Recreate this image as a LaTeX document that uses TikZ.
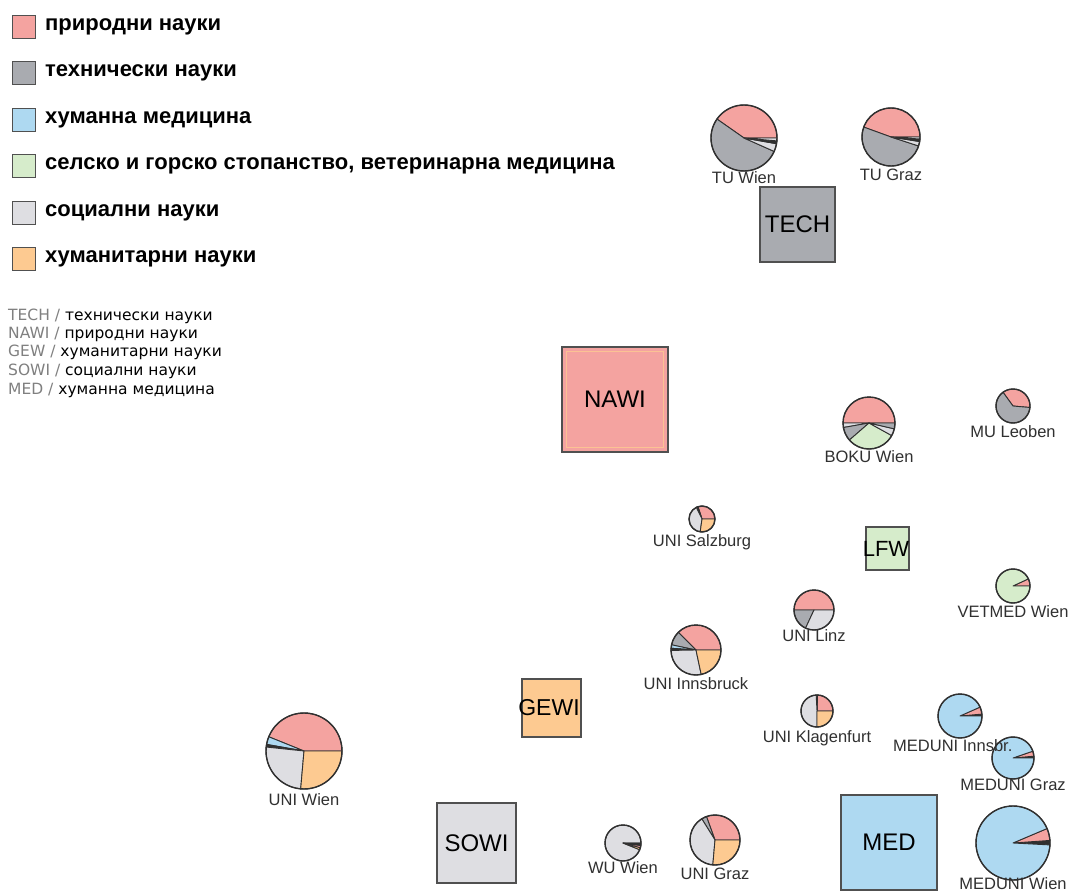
\documentclass[tikz,border=0pt]{standalone}
\usepackage{fontspec}
\setmainfont{Liberation Sans}
\newfontfamily\smallfont{DejaVu Sans}
\definecolor{cPink}{HTML}{F4A3A0}
\definecolor{cGray}{HTML}{A9ABB0}
\definecolor{cBlue}{HTML}{AED9F1}
\definecolor{cGreen}{HTML}{D6ECCB}
\definecolor{cLight}{HTML}{DEDEE2}
\definecolor{cOrange}{HTML}{FDCA91}
\definecolor{cDark}{HTML}{303030}
\definecolor{cBorder}{HTML}{505050}
\definecolor{cAbbr}{HTML}{808080}
\newcommand\pslice[5]{%
  \fill[#5,draw=cDark,line width=0.9pt,line join=round] (#1) -- ++({-(#3)}:#2) arc[start angle={-(#3)}, end angle={-(#4)}, radius=#2] -- cycle;}
\newcommand\pring[2]{\draw[cDark,line width=1.4pt] (#1) circle[radius=#2];}
\begin{document}
\begin{tikzpicture}[x=1pt,y=-1pt,
  legbox/.style={draw=cBorder,line width=1.2pt,minimum size=23pt,inner sep=0pt},
  legtext/.style={anchor=west,inner sep=0pt,font=\fontsize{22}{25}\selectfont\bfseries},
  smalltext/.style={anchor=west,inner sep=0pt,font=\smallfont\fontsize{15.5}{17}\selectfont},
  catbox/.style={draw=cBorder,line width=1.3pt,inner sep=0pt,font=\fontsize{24}{28}\selectfont,text=black},
  pielabel/.style={inner sep=0pt,font=\fontsize{16.5}{19}\selectfont,text=cDark}]
\useasboundingbox (0,0) rectangle (1077,894);
\fill[white] (0,0) rectangle (1077,894);

% ---------- legend ----------
\node[legbox,fill=cPink]   (l1) at (24,27)  {};
\node[legbox,fill=cGray]   (l2) at (24,73)  {};
\node[legbox,fill=cBlue]   (l3) at (24,120) {};
\node[legbox,fill=cGreen]  (l4) at (24,166) {};
\node[legbox,fill=cLight]  (l5) at (24,213) {};
\node[legbox,fill=cOrange] (l6) at (24,259) {};
\node[legtext] (t1) at (45,27)  {природни науки};
\node[legtext] (t2) at (45,73)  {технически науки};
\node[legtext] (t3) at (45,120) {хуманна медицина};
\node[legtext] (t4) at (45,166) {селско и горско стопанство, ветеринарна медицина};
\node[legtext] (t5) at (45,213) {социални науки};
\node[legtext] (t6) at (45,259) {хуманитарни науки};

\node[smalltext] (s1) at (8,316) {\textcolor{cAbbr}{TECH /} технически науки};
\node[smalltext] (s2) at (8,334) {\textcolor{cAbbr}{NAWI /} природни науки};
\node[smalltext] (s3) at (8,352) {\textcolor{cAbbr}{GEW /} хуманитарни науки};
\node[smalltext] (s4) at (8,371) {\textcolor{cAbbr}{SOWI /} социални науки};
\node[smalltext] (s5) at (8,390) {\textcolor{cAbbr}{MED /} хуманна медицина};

% ---------- category boxes ----------
\node[catbox,fill=cGray,minimum width=75pt,minimum height=75pt] (tech) at (797.5,224.5) {TECH};
\node[catbox,fill=cPink,minimum width=106pt,minimum height=105pt] (nawi) at (615,399.5) {};
\draw[cOrange!80!cPink,line width=1.2pt] ([shift={(5,-5)}]nawi.south west) rectangle ([shift={(-5,5)}]nawi.north east);
\node[inner sep=0pt,font=\fontsize{24}{28}\selectfont] (nawit) at (nawi.center) {NAWI};
\node[catbox,fill=cGreen,minimum width=43pt,minimum height=43pt] (lfw) at (887.5,548.5) {};
\node[inner sep=0pt,font=\fontsize{22}{26}\selectfont] (lfwt) at (886,549) {LFW};
\node[catbox,fill=cOrange,minimum width=59pt,minimum height=58pt] (gewi) at (551.5,708) {};
\node[inner sep=0pt,font=\fontsize{23}{26}\selectfont] (gewit) at (549,708) {GEWI};
\node[catbox,fill=cLight,minimum width=79pt,minimum height=80pt] (sowi) at (476.5,843) {SOWI};
\node[catbox,fill=cBlue,minimum width=96pt,minimum height=95pt] (med) at (889,842.5) {MED};

% ---------- pies ----------
% TU Wien
\coordinate (ptuw) at (744,138);
\pslice{ptuw}{33}{0}{145}{cPink}
\pslice{ptuw}{33}{145}{336}{cGray}
\pslice{ptuw}{33}{336}{350}{cLight}
\pslice{ptuw}{33}{350}{355}{cDark}
\pslice{ptuw}{33}{355}{360}{cLight}
\pring{ptuw}{33}
% TU Graz
\coordinate (ptug) at (891,137);
\pslice{ptug}{29}{0}{160}{cPink}
\pslice{ptug}{29}{160}{342}{cGray}
\pslice{ptug}{29}{342}{351}{cLight}
\pslice{ptug}{29}{351}{356}{cDark}
\pslice{ptug}{29}{356}{360}{cLight}
\pring{ptug}{29}
% BOKU Wien
\coordinate (pboku) at (869,423);
\pslice{pboku}{26}{0}{180}{cPink}
\pslice{pboku}{26}{180}{190}{cLight}
\pslice{pboku}{26}{190}{221}{cGray}
\pslice{pboku}{26}{221}{331}{cGreen}
\pslice{pboku}{26}{331}{347}{cLight}
\pslice{pboku}{26}{347}{360}{cGray}
\pring{pboku}{26}
% MU Leoben
\coordinate (pmul) at (1013,406);
\pslice{pmul}{17}{-5}{126}{cPink}
\pslice{pmul}{17}{126}{355}{cGray}
\pring{pmul}{17}
% UNI Salzburg
\coordinate (psbg) at (702,519);
\pslice{psbg}{13}{0}{108}{cPink}
\pslice{psbg}{13}{108}{116}{cDark}
\pslice{psbg}{13}{116}{262}{cLight}
\pslice{psbg}{13}{262}{360}{cOrange}
\pring{psbg}{13}
% UNI Linz
\coordinate (plinz) at (814,610);
\pslice{plinz}{20}{0}{180}{cPink}
\pslice{plinz}{20}{180}{245}{cGray}
\pslice{plinz}{20}{245}{360}{cLight}
\pring{plinz}{20}
% VETMED Wien
\coordinate (pvet) at (1013,586);
\pslice{pvet}{17}{0}{25}{cPink}
\pslice{pvet}{17}{25}{360}{cGreen}
\pring{pvet}{17}
% UNI Innsbruck
\coordinate (pibk) at (696,650);
\pslice{pibk}{25}{0}{135}{cPink}
\pslice{pibk}{25}{135}{168}{cGray}
\pslice{pibk}{25}{168}{176}{cBlue}
\pslice{pibk}{25}{176}{181}{cDark}
\pslice{pibk}{25}{181}{282}{cLight}
\pslice{pibk}{25}{282}{360}{cOrange}
\pring{pibk}{25}
% UNI Klagenfurt
\coordinate (pklu) at (817,711);
\pslice{pklu}{16}{0}{88}{cPink}
\pslice{pklu}{16}{88}{93}{cDark}
\pslice{pklu}{16}{93}{270}{cLight}
\pslice{pklu}{16}{270}{360}{cOrange}
\pring{pklu}{16}
% MEDUNI Innsbruck
\coordinate (pmi) at (960,716);
\pslice{pmi}{22}{0}{5}{cDark}
\pslice{pmi}{22}{5}{24}{cPink}
\pslice{pmi}{22}{24}{360}{cBlue}
\pring{pmi}{22}
% MEDUNI Graz
\coordinate (pmg) at (1013,758);
\pslice{pmg}{21}{0}{5}{cDark}
\pslice{pmg}{21}{5}{19}{cPink}
\pslice{pmg}{21}{19}{360}{cBlue}
\pring{pmg}{21}
% MEDUNI Wien
\coordinate (pmw) at (1013,843);
\pslice{pmw}{37}{-3}{4}{cDark}
\pslice{pmw}{37}{4}{23}{cPink}
\pslice{pmw}{37}{23}{357}{cBlue}
\pring{pmw}{37}
% UNI Wien
\coordinate (puw) at (304,751);
\pslice{puw}{38}{0}{158}{cPink}
\pslice{puw}{38}{158}{170}{cBlue}
\pslice{puw}{38}{170}{174}{cDark}
\pslice{puw}{38}{174}{265}{cLight}
\pslice{puw}{38}{265}{360}{cOrange}
\pring{puw}{38}
% WU Wien
\coordinate (pwu) at (623,843);
\pslice{pwu}{18}{0}{338}{cLight}
\pslice{pwu}{18}{338}{345}{cOrange}
\pslice{pwu}{18}{345}{352}{cPink}
\pslice{pwu}{18}{352}{360}{cDark}
\pring{pwu}{18}
% UNI Graz
\coordinate (pug) at (715,840);
\pslice{pug}{25}{0}{110}{cPink}
\pslice{pug}{25}{110}{122}{cGray}
\pslice{pug}{25}{122}{265}{cLight}
\pslice{pug}{25}{265}{360}{cOrange}
\pring{pug}{25}

% ---------- pie labels ----------
\node[pielabel] (ltuw)  at (744,178) {TU Wien};
\node[pielabel] (ltug)  at (891,175) {TU Graz};
\node[pielabel] (lboku) at (869,457) {BOKU Wien};
\node[pielabel] (lmul)  at (1013,432) {MU Leoben};
\node[pielabel] (lsbg)  at (702,542) {UNI Salzburg};
\node[pielabel] (llinz) at (814,636) {UNI Linz};
\node[pielabel] (lvet)  at (1013,612) {VETMED Wien};
\node[pielabel] (libk)  at (696,684) {UNI Innsbruck};
\node[pielabel] (lklu)  at (817,738) {UNI Klagenfurt};
\node[pielabel,anchor=west] (lmi) at (893,746) {MEDUNI Innsbr.};
\node[pielabel] (lmg)   at (1013,785) {MEDUNI Graz};
\node[pielabel] (lmw)   at (1013,884) {MEDUNI Wien};
\node[pielabel] (luw)   at (304,800) {UNI Wien};
\node[pielabel] (lwu)   at (623,868) {WU Wien};
\node[pielabel] (lug)   at (715,874) {UNI Graz};
\end{tikzpicture}
\end{document}
